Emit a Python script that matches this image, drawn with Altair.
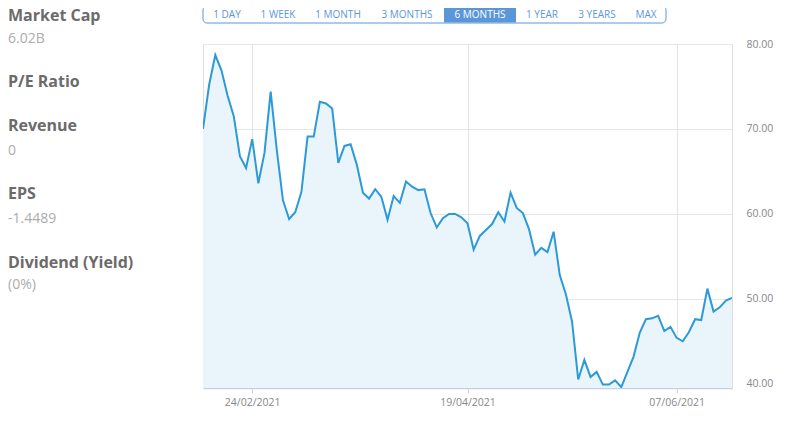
import altair as alt
import pandas as pd

# ---- data ----
prices = [
    70.0, 75.2, 78.7, 76.9, 73.9, 71.5, 66.8, 65.4, 68.8, 63.6,
    67.2, 74.4, 67.5, 61.6, 59.4, 60.2, 62.6, 69.1, 69.1, 73.2,
    73.0, 72.4, 66.0, 68.0, 68.2, 65.8, 62.5, 61.8, 62.9, 62.0,
    59.3, 62.1, 61.3, 63.8, 63.2, 62.8, 62.9, 60.1, 58.4, 59.5,
    60.0, 60.0, 59.6, 58.9, 55.8, 57.4, 58.1, 58.8, 60.2, 59.1,
    62.5, 60.7, 60.1, 58.2, 55.2, 56.0, 55.5, 57.9, 52.8, 50.5,
    47.3, 40.5, 42.8, 40.8, 41.4, 39.9, 39.9, 40.4, 39.6, 41.4,
    43.2, 46.0, 47.6, 47.7, 48.0, 46.2, 46.7, 45.4, 45.0, 46.1,
    47.6, 47.5, 51.2, 48.5, 49.0, 49.8, 50.1,
]
tick_index = [8, 43, 77]
tick_labels = ["24/02/2021", "19/04/2021", "07/06/2021"]
y_ticks = [40, 50, 60, 70, 80]

stat_names = ["Market Cap", "P/E Ratio", "Revenue", "EPS", "Dividend (Yield)"]
stat_values = ["6.02B", "", "0", "-1.4489", "(0%)"]

periods = ["1 DAY", "1 WEEK", "1 MONTH", "3 MONTHS", "6 MONTHS", "1 YEAR", "3 YEARS", "MAX"]
selected_period = "6 MONTHS"

# ---- layout constants ----
W, H = 529, 344
OX, OY = 195, 36  # plot origin offset inside the chart (padding)
name_y = [21, 87, 131, 199, 268]      # page baselines
value_y = [43, 0, 155, 223, 289]
period_x = [227, 278, 338, 407, 480, 542, 597, 646]
sel_x0, sel_x1 = 444, 516
bar_x0, bar_x1, bar_y0, bar_y1 = 203, 666, 6, 23

FONT = "Open Sans"
BLUE = "#5b97d8"

df = pd.DataFrame({"i": list(range(len(prices))), "price": prices})

label_expr = ""
for ti, tl in zip(tick_index, tick_labels):
    label_expr += f"datum.value == {ti} ? '{tl}' : "
label_expr += "''"

xenc = alt.X(
    "i:Q",
    scale=alt.Scale(domain=[0, len(prices) - 1], nice=False, zero=False),
    axis=alt.Axis(
        values=tick_index, labelExpr=label_expr, title=None, grid=True,
        gridColor="#dfe5ec", domainColor="#c3d3e4", domainWidth=1.5,
        tickColor="#c8d3df", tickSize=5, labelColor="#888888",
        labelFont=FONT, labelFontSize=10.5, labelPadding=4,
    ),
)
yenc = alt.Y(
    "price:Q",
    scale=alt.Scale(domain=[39.5, 80], nice=False, zero=False),
    axis=alt.Axis(
        orient="right", values=y_ticks, format=".2f", title=None,
        domain=False, ticks=False, labelPadding=14, grid=True,
        gridColor="#e6e6e6", labelColor="#888888", labelFont=FONT,
        labelFontSize=10.5,
    ),
)

area = alt.Chart(df).mark_area(color="#e9f4fb", clip=True).encode(x=xenc, y=yenc)
line = alt.Chart(df).mark_line(color="#2d9ad7", strokeWidth=2, clip=True).encode(x="i:Q", y="price:Q")

layers = [area, line]

one = pd.DataFrame({"a": [0]})

# sidebar stats
for n, yv in zip(stat_names, name_y):
    layers.append(
        alt.Chart(one).mark_text(
            text=n, align="left", baseline="alphabetic", font=FONT,
            fontSize=16, fontWeight="bold", color="#6b6b6b",
        ).encode(x=alt.value(8 - 8 - OX), y=alt.value(yv - 8 - OY))
    )
for v, yv in zip(stat_values, value_y):
    if v:
        layers.append(
            alt.Chart(one).mark_text(
                text=v, align="left", baseline="alphabetic", font=FONT,
                fontSize=14, color="#acacac",
            ).encode(x=alt.value(8 - 8 - OX), y=alt.value(yv - 8 - OY))
        )

# period selector
layers.append(
    alt.Chart(one).mark_rect(
        fill="white", stroke=BLUE, strokeWidth=1, cornerRadius=4,
    ).encode(
        x=alt.value(bar_x0 - 8 - OX), x2=alt.value(bar_x1 - 8 - OX),
        y=alt.value(bar_y0 - 8 - OY), y2=alt.value(bar_y1 - 8 - OY),
    )
)
layers.append(
    alt.Chart(one).mark_rect(fill=BLUE).encode(
        x=alt.value(sel_x0 - 8 - OX), x2=alt.value(sel_x1 - 8 - OX),
        y=alt.value(bar_y0 - 8 - OY + 0.5), y2=alt.value(bar_y1 - 8 - OY - 0.5),
    )
)
for p, px in zip(periods, period_x):
    layers.append(
        alt.Chart(one).mark_text(
            text=p, align="center", baseline="middle", font=FONT,
            fontSize=10, color="white" if p == selected_period else BLUE,
        ).encode(x=alt.value(px - 8 - OX), y=alt.value((bar_y0 + bar_y1) / 2 - 8 - OY + 0.5))
    )

chart = alt.layer(*layers).properties(
    width=W, height=H,
    autosize=alt.AutoSizeParams(type="none"),
    padding={"left": OX, "top": OY, "right": 776 - OX - W, "bottom": 406 - OY - H},
).configure_view(strokeWidth=0).configure(background="white")

chart.save("out.html", embed_options={"renderer": "svg", "actions": False})
